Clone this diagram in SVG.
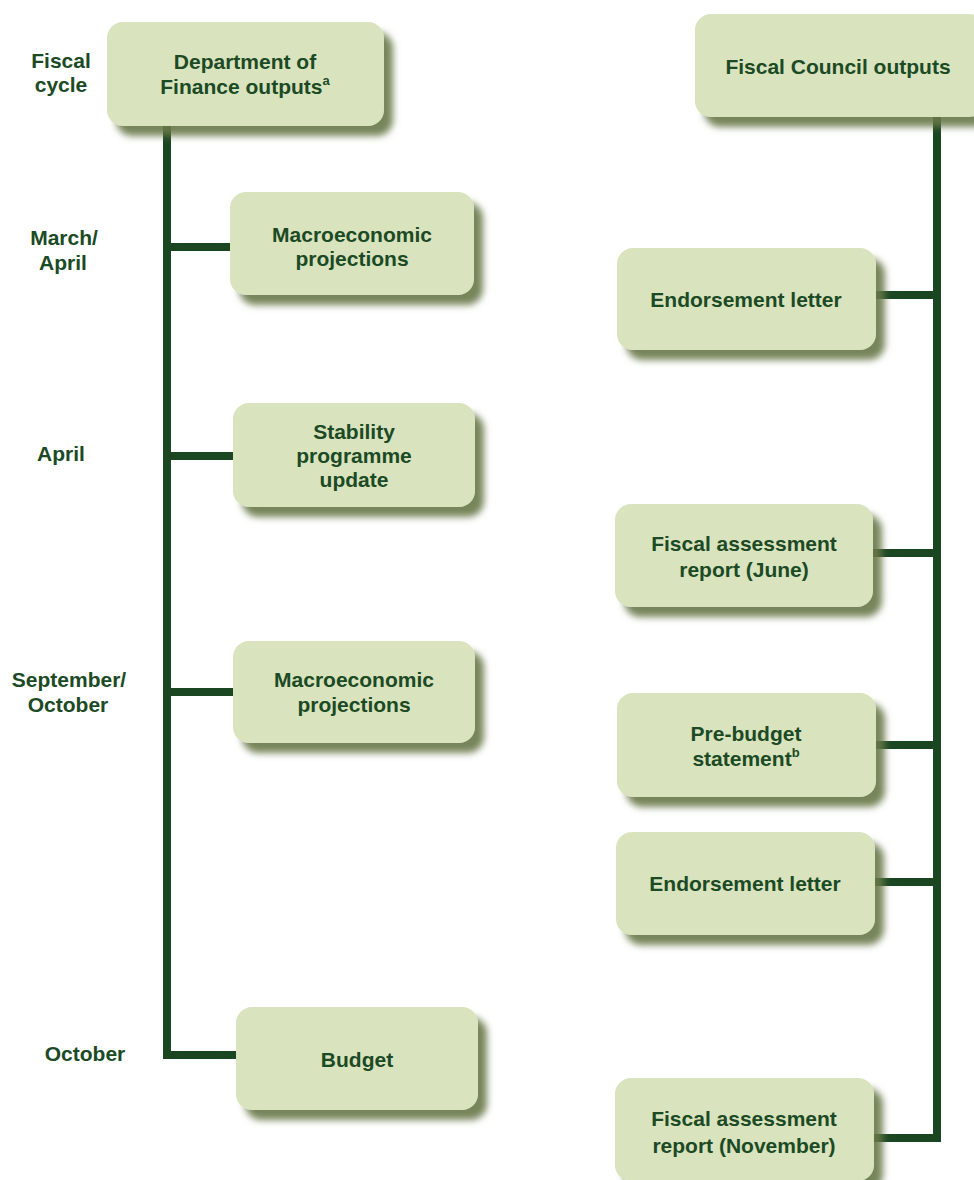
<svg xmlns="http://www.w3.org/2000/svg" width="974" height="1180" viewBox="0 0 974 1180">
<style>
.box{fill:#d9e3be;filter:url(#sh)}
.t{font-family:"Liberation Sans",Arial,sans-serif;font-weight:bold;font-size:21px;fill:#1b4a24;text-anchor:middle}
.sup{font-size:13px}
.ln{stroke:#1b4622;stroke-width:8;fill:none;stroke-linecap:butt}
</style>
<defs>
<filter id="sh" x="-10%" y="-10%" width="130%" height="150%">
<feDropShadow dx="9" dy="10" stdDeviation="3.5" flood-color="#67784a" flood-opacity="0.9"/>
</filter>
</defs>
<rect width="974" height="1180" fill="#ffffff"/>

<g id="connectors">
<path class="ln" d="M167 126 V1059"/>
<path class="ln" d="M167 247 H230"/>
<path class="ln" d="M167 456 H233"/>
<path class="ln" d="M167 692 H233"/>
<path class="ln" d="M163 1055 H236"/>
<path class="ln" d="M937 117 V1142"/>
<path class="ln" d="M876 295 H937"/>
<path class="ln" d="M873 553 H937"/>
<path class="ln" d="M876 745 H937"/>
<path class="ln" d="M875 882 H937"/>
<path class="ln" d="M874 1138 H941"/>
</g>

<g id="labels">
<text class="t" x="61" y="68">Fiscal</text>
<text class="t" x="61" y="92">cycle</text>
<text class="t" x="64" y="245">March/</text>
<text class="t" x="63" y="270">April</text>
<text class="t" x="61" y="461">April</text>
<text class="t" x="69" y="687">September/</text>
<text class="t" x="68" y="712">October</text>
<text class="t" x="85" y="1061">October</text>
</g>

<g id="n-dof">
<rect class="box" x="107" y="22" width="277" height="104" rx="16"/>
<text class="t" x="245" y="69">Department of</text>
<text class="t" x="245" y="94">Finance outputs<tspan class="sup" dy="-9">a</tspan></text>
</g>

<g id="n-macro1">
<rect class="box" x="230" y="192" width="244" height="103" rx="16"/>
<text class="t" x="352" y="242">Macroeconomic</text>
<text class="t" x="352" y="266">projections</text>
</g>

<g id="n-stability">
<rect class="box" x="233" y="403" width="242" height="104" rx="16"/>
<text class="t" x="354" y="439">Stability</text>
<text class="t" x="354" y="463">programme</text>
<text class="t" x="354" y="487">update</text>
</g>

<g id="n-macro2">
<rect class="box" x="233" y="641" width="242" height="102" rx="16"/>
<text class="t" x="354" y="687">Macroeconomic</text>
<text class="t" x="354" y="712">projections</text>
</g>

<g id="n-budget">
<rect class="box" x="236" y="1007" width="242" height="103" rx="16"/>
<text class="t" x="357" y="1067">Budget</text>
</g>

<g id="n-fc">
<rect class="box" x="695" y="14" width="290" height="103" rx="16"/>
<text class="t" x="838" y="74">Fiscal Council outputs</text>
</g>

<g id="n-endorse1">
<rect class="box" x="617" y="248" width="259" height="102" rx="16"/>
<text class="t" x="746" y="307">Endorsement letter</text>
</g>

<g id="n-far-june">
<rect class="box" x="615" y="504" width="258" height="103" rx="16"/>
<text class="t" x="744" y="551">Fiscal assessment</text>
<text class="t" x="744" y="577">report (June)</text>
</g>

<g id="n-prebudget">
<rect class="box" x="617" y="693" width="259" height="104" rx="16"/>
<text class="t" x="746" y="741">Pre-budget</text>
<text class="t" x="746" y="766">statement<tspan class="sup" dy="-9">b</tspan></text>
</g>

<g id="n-endorse2">
<rect class="box" x="616" y="832" width="259" height="103" rx="16"/>
<text class="t" x="745" y="891">Endorsement letter</text>
</g>

<g id="n-far-nov">
<rect class="box" x="615" y="1078" width="259" height="103" rx="16"/>
<text class="t" x="744" y="1126">Fiscal assessment</text>
<text class="t" x="744" y="1153">report (November)</text>
</g>
</svg>
